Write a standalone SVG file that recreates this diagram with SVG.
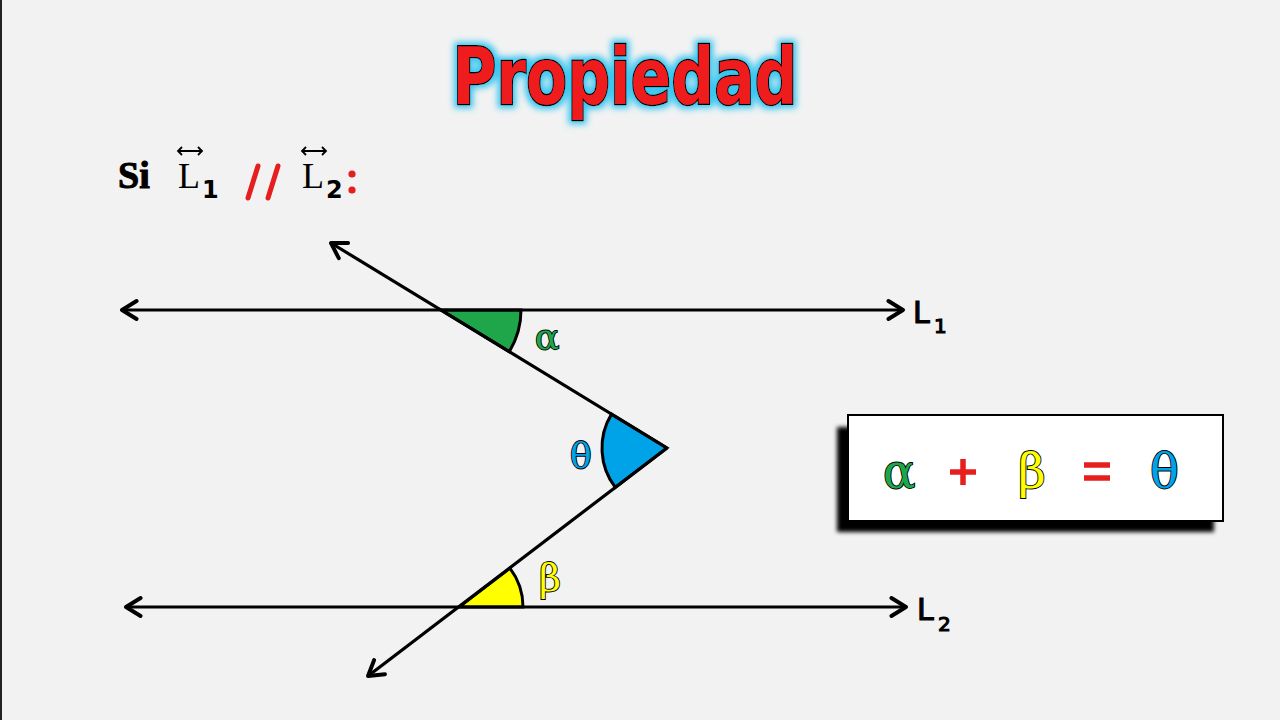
<svg xmlns="http://www.w3.org/2000/svg" width="1280" height="720" viewBox="0 0 1280 720">
<defs>
<style>
.ln{stroke:#000;stroke-width:3.2;fill:none;marker-end:url(#ah)}
.sec{stroke:#000;stroke-width:3}
.gk{font-family:"DejaVu Serif","Liberation Serif",serif;stroke:#000;stroke-width:1.8;paint-order:stroke;}
.lab{font-family:"DejaVu Sans","Liberation Sans",sans-serif;fill:#000;stroke:#000;stroke-width:1.2}
</style>
<marker id="ah" viewBox="0 0 20 20" refX="17" refY="10" markerWidth="7" markerHeight="7" markerUnits="strokeWidth" orient="auto-start-reverse">
<path d="M4,2 L17,10 L4,18" fill="none" stroke="#000" stroke-width="3.5" stroke-linecap="round" stroke-linejoin="round"/>
</marker>
<filter id="glow" x="-10%" y="-30%" width="120%" height="160%">
<feMorphology in="SourceAlpha" operator="dilate" radius="3" result="d"/>
<feGaussianBlur in="d" stdDeviation="3" result="b"/>
<feFlood flood-color="#39c6f0"/>
<feComposite in2="b" operator="in" result="g"/>
<feMerge><feMergeNode in="g"/><feMergeNode in="SourceGraphic"/></feMerge>
</filter>
<filter id="shadow" x="-10%" y="-20%" width="120%" height="150%">
<feGaussianBlur stdDeviation="2"/>
</filter>
</defs>
<rect width="1280" height="720" fill="#f2f2f2"/>
<rect x="0" y="0" width="2" height="720" fill="#222"/>

<g id="title" filter="url(#glow)">
<text x="625" y="104" text-anchor="middle" font-family="DejaVu Sans,sans-serif" font-weight="bold" font-size="78" textLength="345" lengthAdjust="spacingAndGlyphs" fill="#ee1c1c" stroke="#000" stroke-width="2.5" paint-order="stroke">Propiedad</text>
</g>

<g id="premise">
<text x="118" y="188" font-family="Liberation Serif,serif" font-weight="bold" font-size="38" fill="#000" stroke="#000" stroke-width="1">Si</text>
<text x="178" y="188" font-family="Liberation Serif,serif" font-size="36" fill="#000">L</text>
<text x="202" y="198" font-family="DejaVu Sans,sans-serif" font-weight="bold" font-size="24" fill="#000">1</text>
<path d="M178,151 H202 M182,147 L178,151 L182,155 M198,147 L202,151 L198,155" stroke="#000" stroke-width="1.8" fill="none"/>
<path d="M248,198 L258,166 M268,198 L278,166" stroke="#e61e1e" stroke-width="5" stroke-linecap="round"/>
<text x="302" y="188" font-family="Liberation Serif,serif" font-size="36" fill="#000">L</text>
<text x="326" y="198" font-family="DejaVu Sans,sans-serif" font-weight="bold" font-size="24" fill="#000">2</text>
<path d="M302,151 H326 M306,147 L302,151 L306,155 M322,147 L326,151 L322,155" stroke="#000" stroke-width="1.8" fill="none"/>
<circle cx="352" cy="174" r="3.6" fill="#e61e1e"/>
<circle cx="352" cy="190" r="3.6" fill="#e61e1e"/>
</g>

<g id="angles">
<path class="sec" d="M441,310 L521,310 A80,80 0 0 1 509.3,351.7 Z" fill="#1fa64a"/>
<path class="sec" d="M667,448 L611.5,414.1 A65,65 0 0 0 615.3,487.4 Z" fill="#00a2e8"/>
<path class="sec" d="M459,607 L523,607 A64,64 0 0 0 509.9,568.2 Z" fill="#ffff00"/>
</g>

<g id="connectors">
<line class="ln" x1="520" y1="310" x2="122" y2="310"/>
<line class="ln" x1="520" y1="310" x2="903" y2="310"/>
<line class="ln" x1="520" y1="607" x2="126" y2="607"/>
<line class="ln" x1="520" y1="607" x2="906" y2="607"/>
<line class="ln" x1="667" y1="448" x2="331" y2="243"/>
<line class="ln" x1="667" y1="448" x2="368" y2="676"/>
</g>

<g id="labels">
<text class="gk" x="535" y="349" font-size="36" fill="#1fa64a">α</text>
<text class="gk" x="570" y="468" font-size="36" fill="#00a2e8">θ</text>
<text class="gk" x="539" y="591" font-size="38" fill="#ffff00">β</text>
<text class="lab" x="913" y="323" font-size="30">L</text>
<text class="lab" x="934" y="333" font-size="20">1</text>
<text class="lab" x="917" y="620" font-size="30">L</text>
<text class="lab" x="938" y="631" font-size="20">2</text>
</g>

<g id="formula">
<rect x="837" y="427" width="377" height="105" fill="#000" filter="url(#shadow)"/>
<rect x="848" y="415" width="375" height="106" fill="#fff" stroke="#000" stroke-width="2"/>
<text class="gk" x="883" y="488" font-size="48" fill="#1fa64a">α</text>
<path d="M950,472 H976 M963,459 V485" stroke="#e61e1e" stroke-width="5.5"/>
<text class="gk" x="1018" y="488" font-size="48" fill="#ffff00">β</text>
<path d="M1084,465 H1110 M1084,478 H1110" stroke="#e61e1e" stroke-width="5.5"/>
<text class="gk" x="1150" y="488" font-size="48" fill="#00a2e8">θ</text>
</g>
</svg>
